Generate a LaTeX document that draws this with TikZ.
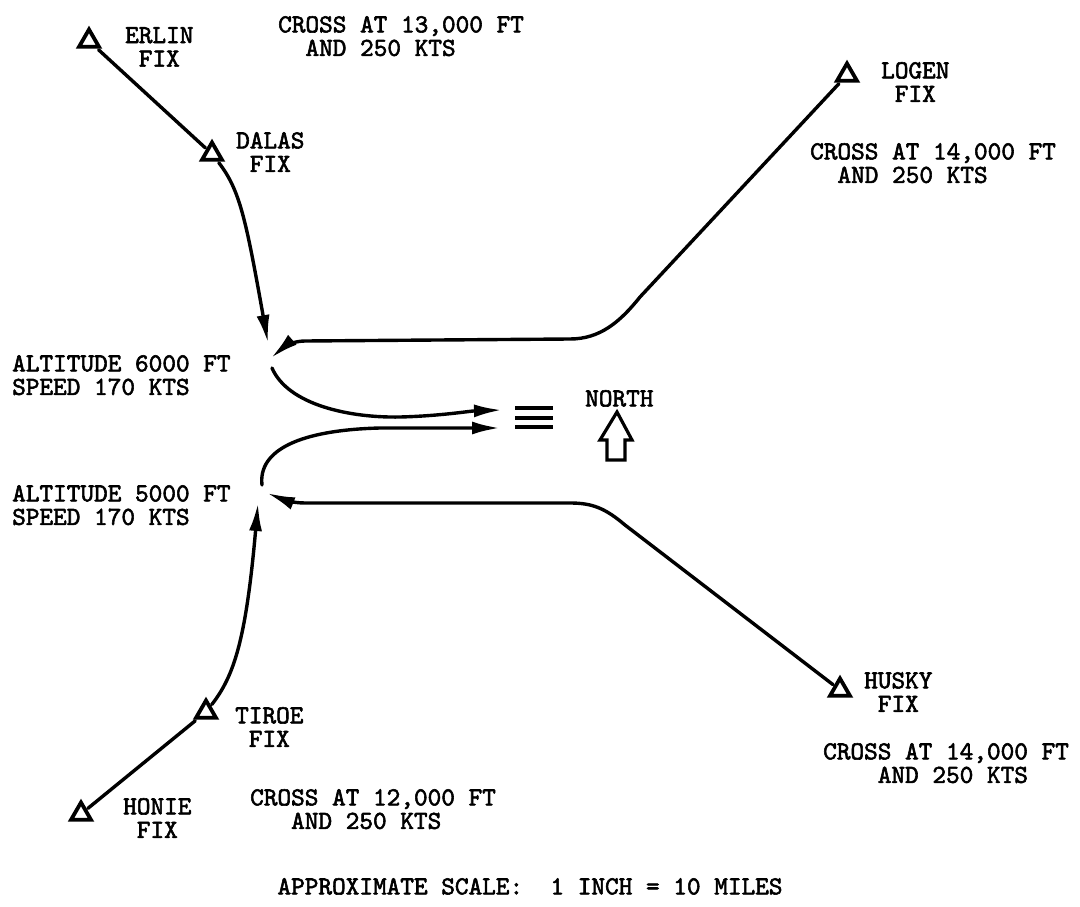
\documentclass[tikz,border=0pt]{standalone}
\usepackage{fontspec}
\newfontfamily\tw{lmmono10-regular.otf}[FakeBold=2.2]
\usetikzlibrary{arrows.meta,shapes.geometric}
\begin{document}
\begin{tikzpicture}[x=1pt,y=-1pt,
  fix/.style={draw, regular polygon, regular polygon sides=3, minimum size=23pt,
    inner sep=0pt, line width=3.8pt, line join=miter, outer sep=3pt},
  lbl/.style={font=\tw\fontsize{26}{23.5}\selectfont, align=left,
    inner sep=0pt, anchor=north west},
  route/.style={line width=3.4pt, line cap=round},
  arr/.style={route, -{Latex[length=28pt,width=13pt]}},
  bar/.style={line width=3.8pt},
]
\useasboundingbox (0,0) rectangle (1080,907);

% fixes
\node[fix] (erlin) at (89,41) {};
\node[fix] (dalas) at (212,154) {};
\node[fix] (logen) at (847,75) {};
\node[fix] (husky) at (840,690) {};
\node[fix] (tiroe) at (206,712) {};
\node[fix] (honie) at (81,814) {};

% labels
\node[lbl] (crosstop) at (278,16) {CROSS AT 13,000 FT\\\hphantom{CR}AND 250 KTS};
\node[lbl] (erlinlbl) at (125,27) {ERLIN\\\hphantom{E}FIX};
\node[lbl] (dalaslbl) at (236,132) {DALAS\\\hphantom{D}FIX};
\node[lbl] (logenlbl) at (881,62) {LOGEN\\\hphantom{L}FIX};
\node[lbl] (crosslogen) at (810,143) {CROSS AT 14,000 FT\\\hphantom{CR}AND 250 KTS};
\node[lbl] (huskylbl) at (864,672) {HUSKY\\\hphantom{H}FIX};
\node[lbl] (crosshusky) at (823,743) {CROSS AT 14,000 FT\\\hphantom{CROS}AND 250 KTS};
\node[lbl] (tiroelbl) at (235,707) {TIROE\\\hphantom{T}FIX};
\node[lbl] (honielbl) at (123,798) {HONIE\\\hphantom{H}FIX};
\node[lbl] (crossbot) at (250,789) {CROSS AT 12,000 FT\\\hphantom{CRO}AND 250 KTS};
\node[lbl] (alt6) at (12,355) {ALTITUDE 6000 FT\\SPEED 170 KTS};
\node[lbl] (alt5) at (12,485) {ALTITUDE 5000 FT\\SPEED 170 KTS};
\node[lbl] (north) at (585,390) {NORTH};
\node[lbl, anchor=north] (scale) at (530,878) {APPROXIMATE SCALE:\ \ 1 INCH = 10 MILES};

% free ends
\coordinate (jA) at (268,343);
\coordinate (jB) at (271,358);
\coordinate (jC) at (272,368);
\coordinate (mA) at (502,410);
\coordinate (mB) at (500,428);
\coordinate (jD) at (262,485);
\coordinate (jE) at (267,493);
\coordinate (jF) at (258,503);

% routes
\draw[route] (erlin) -- (dalas);
\draw[arr] (dalas) .. controls (240,190) and (246,220) .. (jA);
\draw[arr] (logen) -- (640,297) .. controls (620,322) and (600,339) .. (570,339)
  -- (305,341) .. controls (295,341) and (285,346) .. (jB);
\draw[arr] (jC) .. controls (288,405) and (350,418) .. (400,417)
  .. controls (440,416) and (470,411) .. (mA);
\draw[arr] (jD) .. controls (258,450) and (300,430) .. (380,428) -- (mB);
\draw[arr] (husky) -- (625,525) .. controls (605,508) and (592,503) .. (570,503)
  -- (305,503) .. controls (292,503) and (282,499) .. (jE);
\draw[route] (honie) -- (tiroe);
\draw[arr] (tiroe) .. controls (234,676) and (246,640) .. (jF);

% runway
\draw[bar] (515,408) -- (553,408);
\draw[bar] (515,418) -- (553,418);
\draw[bar] (515,427) -- (553,427);

% north arrow
\draw[line width=3.2pt, line join=miter] (617,412) -- (632,440) -- (625,440) -- (625,460)
  -- (607,460) -- (607,440) -- (600,440) -- cycle;
\end{tikzpicture}
\end{document}
